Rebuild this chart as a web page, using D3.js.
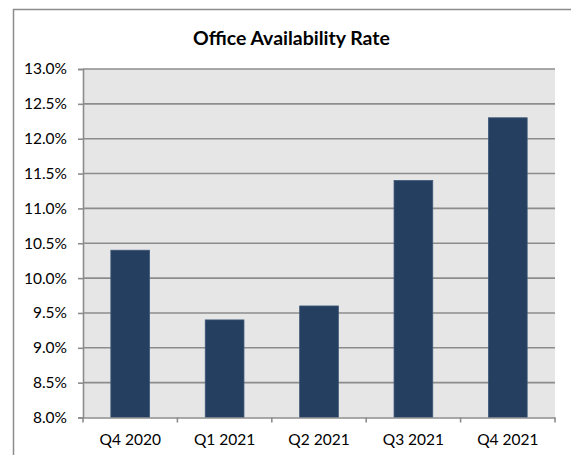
<!DOCTYPE html>
<html><head><meta charset="utf-8">
<script src="https://cdn.jsdelivr.net/npm/d3@7"></script>
<style>body{margin:0;background:#fff}svg{display:block}text{font-family:Lato,"Open Sans",sans-serif;fill:#000}</style>
</head><body>
<svg id="c" width="571" height="455"></svg>
<script>
const categories = ["Q4 2020","Q1 2021","Q2 2021","Q3 2021","Q4 2021"];
const values = [10.4, 9.4, 9.6, 11.4, 12.3];
const yTicks = [8.0,8.5,9.0,9.5,10.0,10.5,11.0,11.5,12.0,12.5,13.0];
const title = "Office Availability Rate";

const svg = d3.select("#c");
const L=83, R=555, T=69, B=417.5;
// outer border
svg.append("rect").attr("x",13.5).attr("y",9.5).attr("width",600).attr("height",500)
  .attr("fill","#fff").attr("stroke","#8c8c8c").attr("stroke-width",1.5);
svg.append("rect").attr("x",L).attr("y",T).attr("width",R-L).attr("height",B-T).attr("fill","#e6e6e6");

const x = d3.scaleBand().domain(categories).range([L,R]).padding(0);
const y = d3.scaleLinear().domain([8,13]).range([B,T]);

// gridlines
svg.append("g").selectAll("line").data(yTicks.slice(1)).join("line")
  .attr("x1",L).attr("x2",R).attr("y1",d=>y(d)).attr("y2",d=>y(d))
  .attr("stroke","#8c8c8c").attr("stroke-width",1.6);

// bars
const bw = x.step()*0.41;
svg.append("g").selectAll("rect").data(values).join("rect")
  .attr("x",(d,i)=>x(categories[i])+x.bandwidth()/2-bw/2)
  .attr("width",bw)
  .attr("y",d=>y(d)).attr("height",d=>B-y(d))
  .attr("fill","#243f60").attr("stroke","#3d5677").attr("stroke-width",0.8);

// y axis
const ya = svg.append("g").attr("transform",`translate(${L},0)`)
  .call(d3.axisLeft(y).tickValues(yTicks).tickFormat(d=>d.toFixed(1)+"%").tickSize(5).tickPadding(11));
ya.select(".domain").attr("stroke","#8c8c8c").attr("stroke-width",1.6);
ya.selectAll(".tick line").attr("stroke","#8c8c8c").attr("stroke-width",1.6);
ya.selectAll("text").attr("font-size",15.5).attr("font-family","Lato,sans-serif").attr("fill","#000");

// x axis
const xa = svg.append("g").attr("transform",`translate(0,${B})`)
  .call(d3.axisBottom(x).tickSize(0).tickPadding(16));
xa.select(".domain").attr("stroke","#8c8c8c").attr("stroke-width",1.6);
xa.selectAll("text").attr("font-size",15.5).attr("font-family","Lato,sans-serif").attr("fill","#000");
const bounds = d3.range(categories.length+1).map(i=>L+i*x.step());
svg.append("g").selectAll("line").data(bounds).join("line")
  .attr("x1",d=>d).attr("x2",d=>d).attr("y1",B).attr("y2",B+5)
  .attr("stroke","#8c8c8c").attr("stroke-width",1.6);

// title
const t = svg.append("text").attr("x",291.5).attr("y",45).attr("text-anchor","middle")
  .attr("font-weight","bold").attr("font-size",17).text(title);
const w = t.node().getComputedTextLength();
t.attr("font-size",17*197/w);
</script>
</body></html>
